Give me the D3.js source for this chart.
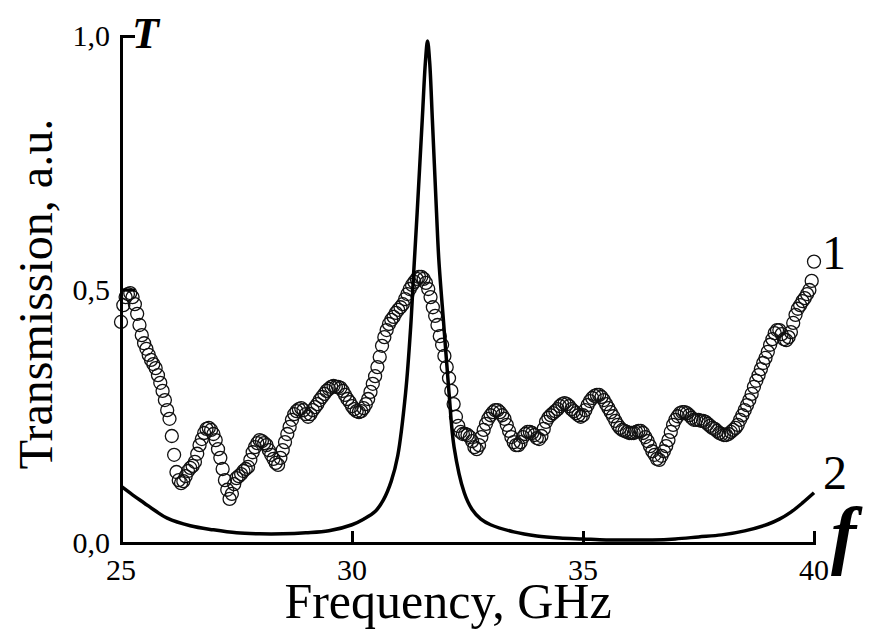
<!DOCTYPE html>
<html>
<head>
<meta charset="utf-8">
<script src="https://cdn.jsdelivr.net/npm/d3@7"></script>
<style>
  body { margin: 0; background: #fff; }
  text { font-family: "Liberation Serif", "Times New Roman", serif; fill: #000; }
</style>
</head>
<body>
<svg id="chart" width="872" height="630"></svg>
<script>
// curve 1: measured transmission, sampled every 0.05 GHz from 25 GHz
const freqStart = 25, freqStep = 0.05;
const trans1 = [
  0.436, 0.469, 0.485, 0.491, 0.493, 0.485, 0.471, 0.452, 0.430, 0.410,
  0.394, 0.383, 0.371, 0.361, 0.353, 0.345, 0.331, 0.316, 0.300, 0.282,
  0.262, 0.245, 0.211, 0.174, 0.140, 0.124, 0.118, 0.122, 0.132, 0.142,
  0.148, 0.152, 0.160, 0.176, 0.193, 0.205, 0.217, 0.225, 0.227, 0.223,
  0.215, 0.203, 0.185, 0.168, 0.146, 0.124, 0.105, 0.087, 0.097, 0.116,
  0.128, 0.132, 0.136, 0.142, 0.146, 0.150, 0.164, 0.179, 0.189, 0.197,
  0.203, 0.201, 0.197, 0.193, 0.183, 0.174, 0.166, 0.158, 0.154, 0.168,
  0.183, 0.199, 0.215, 0.229, 0.243, 0.254, 0.260, 0.264, 0.266, 0.262,
  0.254, 0.249, 0.254, 0.262, 0.268, 0.274, 0.282, 0.288, 0.294, 0.300,
  0.304, 0.308, 0.310, 0.308, 0.308, 0.306, 0.300, 0.292, 0.284, 0.278,
  0.270, 0.264, 0.260, 0.258, 0.260, 0.266, 0.274, 0.284, 0.298, 0.314,
  0.329, 0.347, 0.367, 0.389, 0.406, 0.420, 0.432, 0.440, 0.446, 0.454,
  0.460, 0.465, 0.471, 0.481, 0.491, 0.501, 0.509, 0.515, 0.521, 0.525,
  0.525, 0.521, 0.513, 0.501, 0.485, 0.465, 0.448, 0.430, 0.408, 0.391,
  0.369, 0.347, 0.325, 0.300, 0.274, 0.249, 0.231, 0.219, 0.215, 0.215,
  0.213, 0.209, 0.201, 0.189, 0.185, 0.193, 0.209, 0.223, 0.235, 0.245,
  0.252, 0.258, 0.262, 0.262, 0.258, 0.252, 0.245, 0.233, 0.221, 0.209,
  0.199, 0.193, 0.193, 0.199, 0.209, 0.215, 0.219, 0.219, 0.217, 0.213,
  0.207, 0.205, 0.211, 0.225, 0.239, 0.247, 0.252, 0.256, 0.260, 0.264,
  0.270, 0.274, 0.276, 0.274, 0.270, 0.264, 0.260, 0.256, 0.252, 0.249,
  0.252, 0.262, 0.272, 0.280, 0.286, 0.290, 0.292, 0.292, 0.288, 0.282,
  0.274, 0.266, 0.258, 0.250, 0.241, 0.233, 0.227, 0.223, 0.221, 0.219,
  0.217, 0.217, 0.217, 0.219, 0.221, 0.221, 0.217, 0.209, 0.201, 0.191,
  0.181, 0.174, 0.166, 0.164, 0.172, 0.181, 0.191, 0.203, 0.219, 0.233,
  0.243, 0.250, 0.256, 0.258, 0.258, 0.256, 0.252, 0.247, 0.243, 0.243,
  0.243, 0.241, 0.241, 0.239, 0.235, 0.231, 0.227, 0.225, 0.221, 0.217,
  0.215, 0.213, 0.213, 0.215, 0.219, 0.223, 0.227, 0.233, 0.243, 0.252,
  0.262, 0.272, 0.282, 0.294, 0.308, 0.320, 0.331, 0.343, 0.355, 0.365,
  0.377, 0.391, 0.402, 0.414, 0.420, 0.420, 0.412, 0.402, 0.400, 0.406,
  0.416, 0.434, 0.450, 0.462, 0.469, 0.477, 0.483, 0.491, 0.499, 0.517,
  0.555
];

// curve 2: calculated transmission
const freq2 = [25.0, 25.25, 25.5, 25.75, 26.0, 26.5, 27.0, 27.5, 28.0, 28.5,
  29.0, 29.5, 30.0, 30.25, 30.5, 30.68, 30.85, 30.99, 31.16, 31.27, 31.33, 31.41,
  31.52, 31.59, 31.635, 31.68, 31.74, 31.83, 31.88, 31.99, 32.10, 32.21,
  32.43, 32.6, 32.79, 33.0, 33.5, 34.0, 34.5, 35.0, 35.5, 36.0, 36.5, 37.0, 37.5,
  38.0, 38.5, 39.0, 39.25, 39.5, 39.75, 40.0];
const trans2 = [0.112, 0.095, 0.079, 0.063, 0.049, 0.034, 0.026, 0.020, 0.018, 0.018,
  0.020, 0.024, 0.036, 0.047, 0.062, 0.085, 0.122, 0.172, 0.296, 0.426, 0.525, 0.651,
  0.834, 0.950, 0.990, 0.950, 0.834, 0.651, 0.558, 0.426, 0.296, 0.189,
  0.099, 0.066, 0.047, 0.036, 0.022, 0.014, 0.010, 0.008, 0.006, 0.006, 0.006, 0.008, 0.012,
  0.016, 0.024, 0.037, 0.047, 0.061, 0.079, 0.099];

const xTicks = [25, 30, 35, 40];
const xTickLabels = ["25", "30", "35", "40"];
const yTicks = [0, 0.5, 1];
const yTickLabels = ["0,0", "0,5", "1,0"];

const svg = d3.select("#chart");
const x = d3.scaleLinear().domain([25, 40]).range([121, 814]);
const y = d3.scaleLinear().domain([0, 1]).range([543, 36]);

const points1 = trans1.map((t, i) => ({ f: freqStart + i * freqStep, t: t }));
const points2 = freq2.map((f, i) => ({ f: f, t: trans2[i] }));

// open circles for curve 1
svg.append("g")
  .selectAll("circle")
  .data(points1)
  .join("circle")
  .attr("cx", d => x(d.f))
  .attr("cy", d => y(d.t))
  .attr("r", 6.5)
  .attr("fill", "none")
  .attr("stroke", "#111")
  .attr("stroke-width", 1.3);

// solid line for curve 2
svg.append("path")
  .datum(points2)
  .attr("fill", "none")
  .attr("stroke", "#000")
  .attr("stroke-width", 3.5)
  .attr("stroke-linejoin", "round")
  .attr("d", d3.line().x(d => x(d.f)).y(d => y(d.t)).curve(d3.curveCatmullRom.alpha(0.5)));

// axes, ticks pointing inward (labels drawn separately below)
const xAxis = svg.append("g")
  .attr("transform", "translate(0,543)")
  .call(d3.axisBottom(x).tickValues(xTicks).tickFormat("")
    .tickSizeInner(-12).tickSizeOuter(0));

const yAxis = svg.append("g")
  .attr("transform", "translate(121,0)")
  .call(d3.axisLeft(y).tickValues(yTicks).tickFormat("")
    .tickSizeInner(-14).tickSizeOuter(0));

[xAxis, yAxis].forEach(g => {
  g.select(".domain").attr("stroke-width", 3).attr("stroke-linecap", "square");
  g.selectAll(".tick line").attr("stroke-width", 3);
});

svg.append("g")
  .selectAll("text")
  .data(xTicks)
  .join("text")
  .attr("x", d => x(d))
  .attr("y", 580)
  .attr("text-anchor", "middle")
  .attr("font-size", 30)
  .text((d, i) => xTickLabels[i]);

svg.append("g")
  .selectAll("text")
  .data(yTicks)
  .join("text")
  .attr("x", 110)
  .attr("y", d => y(d) + 10)
  .attr("text-anchor", "end")
  .attr("font-size", 30)
  .text((d, i) => yTickLabels[i]);

// axis titles
svg.append("text")
  .attr("x", 448).attr("y", 618)
  .attr("text-anchor", "middle")
  .attr("font-size", 50)
  .text("Frequency, GHz");

svg.append("text")
  .attr("transform", "translate(52,294) rotate(-90)")
  .attr("text-anchor", "middle")
  .attr("font-size", 48)
  .text("Transmission, a.u.");

svg.append("text")
  .attr("x", 132).attr("y", 48)
  .attr("font-size", 44)
  .attr("font-weight", "bold")
  .attr("font-style", "italic")
  .text("T");

svg.append("text")
  .attr("x", 831).attr("y", 560)
  .attr("font-size", 76)
  .attr("font-weight", "bold")
  .attr("font-style", "italic")
  .text("f");

// curve labels
svg.append("text")
  .attr("x", 822).attr("y", 269)
  .attr("font-size", 48)
  .text("1");

svg.append("text")
  .attr("x", 823).attr("y", 489)
  .attr("font-size", 48)
  .text("2");
</script>
</body>
</html>
